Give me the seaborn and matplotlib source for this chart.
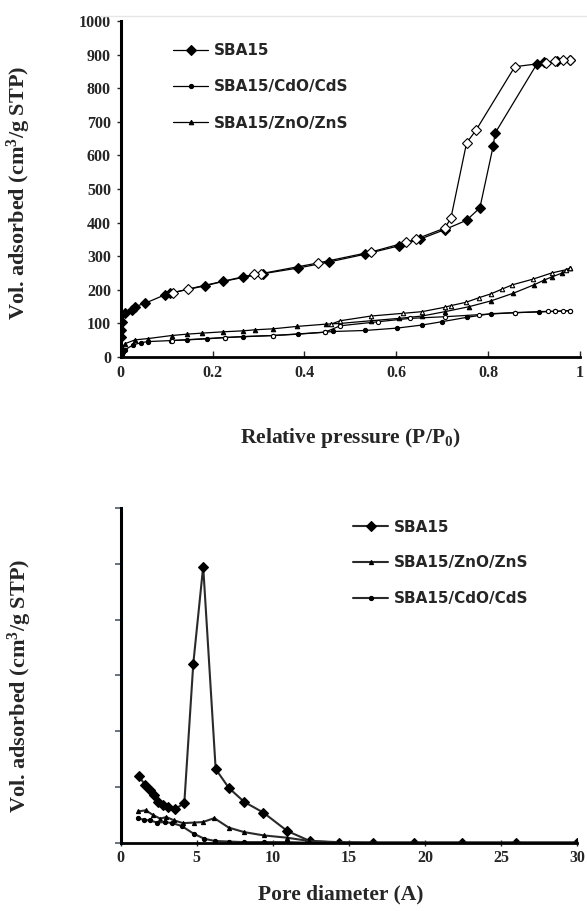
import numpy as np
import pandas as pd
import matplotlib
matplotlib.use("Agg")
import matplotlib.pyplot as plt
import seaborn as sns

# ---- 흡착 등온선 (relative pressure vs vol. adsorbed) ----
sba_ads_x = [0, 0.001, 0.003, 0.009, 0.024, 0.031, 0.053, 0.096, 0.107, 0.184, 0.223, 0.267,
             0.31, 0.387, 0.454, 0.532, 0.606, 0.652, 0.705, 0.753, 0.782, 0.811, 0.815,
             0.906, 0.922, 0.95, 0.978]
sba_ads_y = [60, 80, 105, 131, 140, 150, 160, 185, 190, 212, 225, 237,
             248, 265, 283, 306, 331, 351, 379, 407, 444, 628, 666,
             872, 877, 880, 884]
sba_des_x = [0.978, 0.964, 0.946, 0.926, 0.858, 0.774, 0.753, 0.719, 0.706, 0.643, 0.621,
             0.546, 0.43, 0.305, 0.29, 0.146, 0.113]
sba_des_y = [884, 883, 880, 876, 864, 676, 637, 414, 384, 351, 341,
             313, 280, 248, 246, 202, 191]

cdo_ads_x = [0, 0.002, 0.005, 0.01, 0.027, 0.045, 0.06, 0.11, 0.144, 0.187, 0.227, 0.267,
             0.332, 0.387, 0.445, 0.463, 0.532, 0.601, 0.655, 0.699, 0.753, 0.806, 0.858,
             0.91, 0.946, 0.978]
cdo_ads_y = [5, 10, 16, 22, 36, 43, 46, 49, 51, 54, 58, 61,
             64, 68, 74, 76, 79, 86, 95, 105, 118, 129, 132,
             134, 136, 138]
cdo_des_x = [0.978, 0.964, 0.946, 0.93, 0.858, 0.78, 0.706, 0.63, 0.56, 0.478, 0.445,
             0.332, 0.227, 0.111]
cdo_des_y = [138, 137, 136, 136, 132, 126, 120, 115, 105, 93, 74, 64, 58, 49]

zno_ads_x = [0, 0.003, 0.01, 0.031, 0.06, 0.111, 0.144, 0.176, 0.223, 0.267, 0.292, 0.332,
             0.383, 0.448, 0.478, 0.545, 0.606, 0.656, 0.706, 0.759, 0.806, 0.855, 0.9,
             0.922, 0.938, 0.961, 0.978]
zno_ads_y = [20, 30, 40, 51, 55, 64, 68, 71, 75, 78, 81, 84,
             91, 98, 100, 108, 115, 122, 135, 150, 167, 190, 215,
             229, 238, 250, 265]
zno_des_x = [0.978, 0.97, 0.938, 0.898, 0.853, 0.83, 0.806, 0.781, 0.752, 0.719, 0.705,
             0.656, 0.614, 0.545, 0.478, 0.458]
zno_des_y = [265, 260, 250, 232, 215, 202, 188, 177, 163, 153, 148,
             135, 130, 122, 108, 98]

top_xticks = [0, 0.2, 0.4, 0.6, 0.8, 1.0]
top_xlabels = ["0", "0.2", "0.4", "0.6", "0.8", "1"]
top_yticks = list(range(0, 1001, 100))

# ---- 기공 분포 (pore diameter) ----
psd_sba_x = [1.22, 1.6, 1.92, 2.19, 2.47, 2.8, 3.13, 3.57, 4.18, 4.77, 5.42, 6.24, 7.11,
             8.12, 9.37, 10.94, 12.43, 14.35, 16.59, 19.26, 22.45, 25.96, 29.98]
psd_sba_y = [1.19, 1.03, 0.94, 0.85, 0.73, 0.67, 0.64, 0.60, 0.71, 3.21, 4.95, 1.32, 0.98,
             0.73, 0.54, 0.21, 0.03, 0.0, 0.0, 0.0, 0.0, 0.0, 0.0]
psd_zno_x = [1.15, 1.65, 2.1, 2.6, 3.0, 3.5, 4.1, 4.8, 5.4, 6.15, 7.1, 8.1, 9.4, 10.9,
             12.4, 14.3, 16.6, 19.3, 22.4, 26.0, 30.0]
psd_zno_y = [0.56, 0.58, 0.50, 0.43, 0.46, 0.40, 0.35, 0.36, 0.37, 0.44, 0.27, 0.19, 0.13,
             0.09, 0.03, 0.01, 0.0, 0.0, 0.0, 0.0, 0.0]
psd_cdo_x = [1.15, 1.5, 1.9, 2.4, 2.9, 3.4, 4.0, 4.8, 5.5, 6.2, 7.1, 8.1, 9.4, 10.9,
             12.4, 14.3, 16.6, 19.3, 22.4, 26.0, 30.0]
psd_cdo_y = [0.44, 0.41, 0.40, 0.36, 0.37, 0.35, 0.30, 0.16, 0.07, 0.03, 0.02, 0.01, 0.01,
             0.01, 0.0, 0.0, 0.0, 0.0, 0.0, 0.0, 0.0]

sns.set_style("white")
plt.rcParams['font.family'] = ['Liberation Serif', 'DejaVu Serif']
plt.rcParams['font.weight'] = 'bold'
plt.rcParams['mathtext.fontset'] = 'custom'
plt.rcParams['mathtext.rm'] = 'Liberation Serif:bold'
plt.rcParams['mathtext.it'] = 'Liberation Serif:italic:bold'
plt.rcParams['mathtext.bf'] = 'Liberation Serif:bold'

fig = plt.figure(figsize=(5.87, 9.11), dpi=100)
ax1 = fig.add_axes([0.2056, 0.6081, 0.7825, 0.3688])
ax2 = fig.add_axes([0.2056, 0.0750, 0.7779, 0.3674])

legend_font = {'family': 'DejaVu Sans', 'weight': 'bold', 'size': 11}
label_size = 15.5


def draw(ax, x, y, marker, ms, face, lw, color, label=None):
    sns.lineplot(x=x, y=y, ax=ax, sort=False, estimator=None, color=color,
                 linewidth=lw, marker=marker, markersize=ms, markerfacecolor=face,
                 markeredgecolor='black', markeredgewidth=0.8, label=label)


# 등온선
k = 'black'
draw(ax1, sba_ads_x, sba_ads_y, 'D', 5.5, 'black', 0.9, k, 'SBA15')
draw(ax1, cdo_ads_x, cdo_ads_y, 'o', 3.0, 'black', 0.9, k, 'SBA15/CdO/CdS')
draw(ax1, zno_ads_x, zno_ads_y, '^', 3.2, 'black', 0.9, k, 'SBA15/ZnO/ZnS')
draw(ax1, sba_des_x, sba_des_y, 'D', 5.5, 'white', 0.9, k)
draw(ax1, cdo_des_x, cdo_des_y, 'o', 3.0, 'white', 0.9, k)
draw(ax1, zno_des_x, zno_des_y, '^', 3.2, 'white', 0.9, k)

ax1.set_xlim(0, 1)
ax1.set_ylim(0, 1000)
ax1.set_xticks(top_xticks)
ax1.set_xticklabels(top_xlabels)
ax1.set_yticks(top_yticks)
ax1.set_xlabel(r"Relative pressure (P/P$_{0}$)", fontsize=label_size, fontweight='bold')
ax1.set_ylabel(r"Vol. adsorbed (cm$^{3}$/g STP)", fontsize=16, fontweight='bold')
ax1.xaxis.set_label_coords(0.5, -0.205)
ax1.yaxis.set_label_coords(-0.19, 0.49)
h, l = ax1.get_legend_handles_labels()
ax1.legend(h[:3], l[:3], loc='upper left', bbox_to_anchor=(0.114, 0.935), frameon=False,
           prop=legend_font, handlelength=2.3, handletextpad=0.35, labelspacing=1.4,
           borderpad=0, borderaxespad=0)

# 기공 분포
g = '#2a2a2a'
draw(ax2, psd_sba_x, psd_sba_y, 'D', 5.5, 'black', 1.5, g, 'SBA15')
draw(ax2, psd_zno_x, psd_zno_y, '^', 3.0, 'black', 1.5, g, 'SBA15/ZnO/ZnS')
draw(ax2, psd_cdo_x, psd_cdo_y, 'o', 3.0, 'black', 1.5, g, 'SBA15/CdO/CdS')
ax2.set_xlim(0, 30)
ax2.set_ylim(0, 6)
ax2.set_xticks(range(0, 31, 5))
ax2.set_yticks(range(0, 7))
ax2.set_yticklabels([])
ax2.set_xlabel("Pore diameter (A)", fontsize=label_size, fontweight='bold')
ax2.set_ylabel(r"Vol. adsorbed (cm$^{3}$/g STP)", fontsize=16, fontweight='bold')
ax2.xaxis.set_label_coords(0.482, -0.126)
ax2.yaxis.set_label_coords(-0.19, 0.47)
ax2.legend(loc='upper left', bbox_to_anchor=(0.509, 0.965), frameon=False,
           prop=legend_font, handlelength=2.3, handletextpad=0.35, labelspacing=1.35,
           borderpad=0, borderaxespad=0)

for ax in (ax1, ax2):
    for s in ('top', 'right'):
        ax.spines[s].set_visible(False)
    ax.spines['left'].set_linewidth(2.2)
    ax.spines['bottom'].set_linewidth(2.0)
    ax.spines['left'].set_color('black')
    ax.spines['bottom'].set_color('black')
    for lab in ax.get_xticklabels() + ax.get_yticklabels():
        lab.set_fontweight('bold')
        lab.set_fontsize(11.5)

ax1.tick_params(axis='y', direction='out', length=3, width=1, pad=4, left=True)
ax1.tick_params(axis='x', direction='in', length=4, width=1, pad=6, bottom=True)
ax2.tick_params(axis='y', direction='out', length=4, width=1.2, color='#4a5a70', left=True)
ax2.tick_params(axis='x', direction='inout', length=5, width=1, pad=3, bottom=True)

# 차트 영역 윗선 (연한 테두리)
fig.add_artist(plt.Line2D([100 / 587, 1], [1 - 16 / 911, 1 - 16 / 911], color='#e6e6e6', lw=1))

fig.savefig("out.png", dpi=100)
